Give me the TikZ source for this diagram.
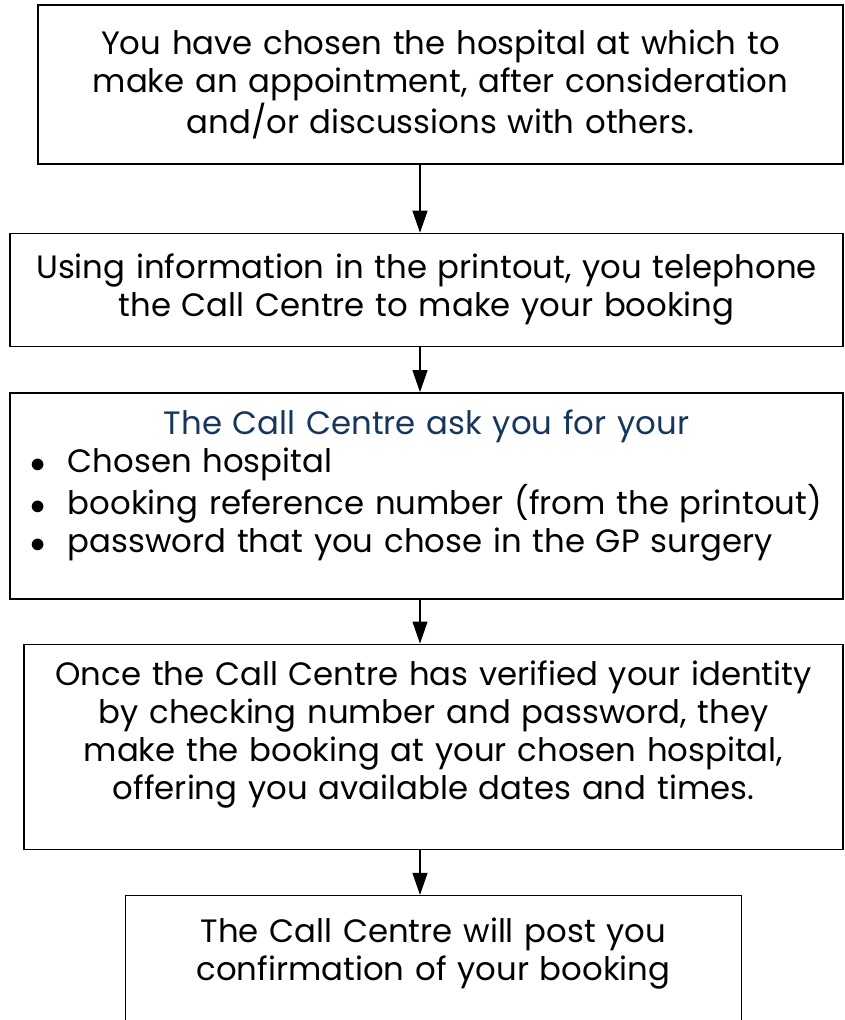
\documentclass[tikz,border=0pt]{standalone}
\usepackage{fontspec}
\setmainfont{Poppins}
\usepackage{xcolor}
\usetikzlibrary{arrows.meta,positioning}

\definecolor{callblue}{RGB}{23,54,93}

\begin{document}
\begin{tikzpicture}
            \tikzstyle{stage} = [rectangle, draw, line width=0.8pt, inner sep=0pt, align=center, font=\fontsize{18.4}{21.6}\selectfont]
            \tikzstyle{arrow} = [semithick,-{Triangle[length=0.44cm,width=0.3cm]}]

            \useasboundingbox (0,0) rectangle (16.9,-20.4);

            \node [stage, text width=16.1cm, minimum height=3.18cm] (b1) at (8.81,-1.69)
                {You have chosen the hospital at which to\\make an appointment, after consideration\\and/or discussions with others.};
            \node [stage, text width=16.66cm, minimum height=2.26cm, below=1.36cm of b1, xshift=-0.28cm] (b2)
                {Using information in the printout, you telephone\\the Call Centre to make your booking};
            \node [stage, text width=16.66cm, minimum height=4.12cm, below=0.9cm of b2] (b3)
                {\begin{tabular}{@{}p{0.74cm}@{}l@{}}
                 \multicolumn{2}{c}{\color{callblue}The Call Centre ask you for your}\\
                 $\bullet$ & Chosen hospital\\
                 $\bullet$ & booking reference number (from the printout)\\
                 $\bullet$ & password that you chose in the GP surgery\\[0.4cm]
                 \end{tabular}};
            % the rules push the text up towards the top edge
            \node [stage, text width=16.38cm, minimum height=4.1cm, below=0.88cm of b3, xshift=0.14cm] (b4)
                {Once the Call Centre has verified your identity\\by checking number and password, they\\make the booking at your chosen hospital,\\offering you available dates and times.\rule[-0.68cm]{0pt}{0pt}};
            \node [stage, text width=12.32cm, minimum height=3.4cm, below=0.9cm of b4] (b5)
                {The Call Centre will post you\\confirmation of your booking\rule[-1.25cm]{0pt}{0pt}};

            % arrows run down one column, left of the box centres
            \coordinate (spine) at (8.4,0);
            \draw [arrow] (b1.south -| spine) -- (b2.north -| spine);
            \draw [arrow] (b2.south -| spine) -- (b3.north -| spine);
            \draw [arrow] (b3.south -| spine) -- (b4.north -| spine);
            \draw [arrow] (b4.south -| spine) -- (b5.north -| spine);
        \end{tikzpicture}
\end{document}
